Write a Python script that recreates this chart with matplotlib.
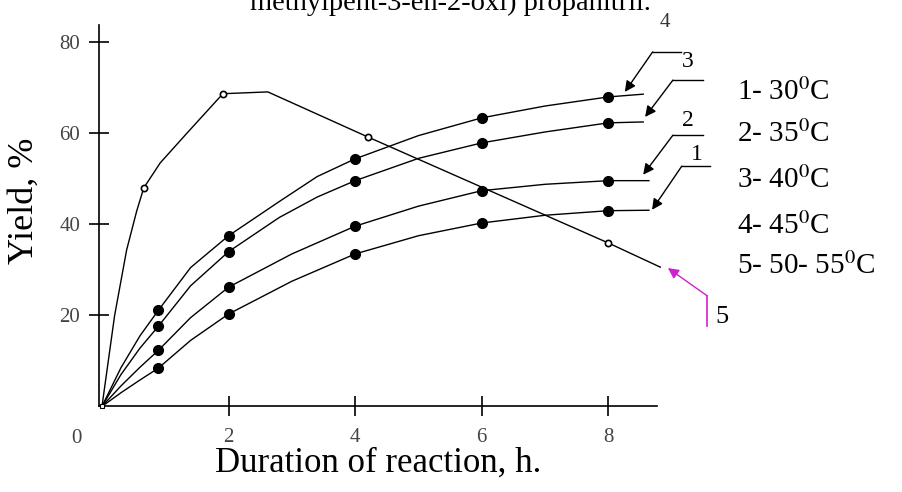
import matplotlib
matplotlib.use("Agg")
import matplotlib.pyplot as plt

plt.rcParams['font.family'] = ['Liberation Serif', 'DejaVu Serif']
plt.rcParams['mathtext.fontset'] = 'stix'

# --- marker data ---
t_marks = [0.89, 2, 4, 6, 8]
y_30 = [8.4, 20.3, 33.5, 40.3, 43.0]
y_35 = [12.3, 26.2, 39.6, 47.4, 49.6]
y_40 = [17.6, 34.0, 49.6, 57.9, 62.3]
y_45 = [21.1, 37.5, 54.4, 63.4, 68.0]

t_50 = [0.66, 1.91, 4.2, 8.0]
y_50 = [48.0, 68.7, 59.2, 35.9]

# --- traced curve lines ---
trace_t_a = [0, 0.3, 0.6, 0.89, 1.4, 2, 3, 4, 5, 6, 7, 8, 8.64]
trace_30 = [0, 3.0, 5.8, 8.4, 14.5, 20.3, 27.5, 33.5, 37.5, 40.3, 42.0, 43.0, 43.1]
trace_35 = [0, 4.5, 8.6, 12.3, 19.5, 26.2, 33.5, 39.6, 44.0, 47.4, 48.8, 49.6, 49.6]
trace_t_b = [0, 0.3, 0.6, 0.89, 1.4, 2, 2.8, 3.4, 4, 5, 6, 7, 8, 8.55]
trace_40 = [0, 7.0, 12.8, 17.6, 26.5, 34.0, 41.5, 46.0, 49.6, 54.5, 57.9, 60.3, 62.3, 62.5]
trace_45 = [0, 8.5, 15.5, 21.1, 30.5, 37.5, 45.0, 50.5, 54.4, 59.5, 63.4, 66.0, 68.0, 68.6]
trace_t_50 = [0, 0.2, 0.39, 0.55, 0.66, 0.92, 1.34, 1.91, 2.62, 4.2, 8.0, 8.82]
trace_50 = [0, 20.0, 34.4, 43.0, 48.0, 53.5, 60.0, 68.7, 69.1, 59.2, 35.9, 30.6]

legend_labels = ["1- 30$^0$C", "2- 35$^0$C", "3- 40$^0$C", "4- 45$^0$C", "5- 50- 55$^0$C"]

W, H = 902, 492
fig = plt.figure(figsize=(W / 100, H / 100), dpi=100)
ax = fig.add_axes([99 / W, 1 - 406.4 / H, (657 - 99) / W, (406.4 - 25) / H])
ax.set_xlim(-0.047, 8.768)
ax.set_ylim(0, 83.8)

for tt, yy in [(trace_t_a, trace_30), (trace_t_a, trace_35),
               (trace_t_b, trace_40), (trace_t_b, trace_45)]:
    ax.plot(tt, yy, color='black', lw=1.0, clip_on=False)
ax.plot(trace_t_50, trace_50, color='black', lw=1.0, clip_on=False)

for yy in [y_30, y_35, y_40, y_45]:
    ax.plot(t_marks, yy, 'o', color='black', ms=7, clip_on=False, zorder=3)
ax.plot(t_50, y_50, 'o', mfc='white', mec='black', ms=4.5, mew=1.2, zorder=3)
ax.plot([0], [0], 's', mfc='white', mec='black', ms=3, mew=0.8, clip_on=False, zorder=3)

for s in ['top', 'right']:
    ax.spines[s].set_visible(False)
for s in ['left', 'bottom']:
    ax.spines[s].set_linewidth(1.2)
ax.set_xticks([2, 4, 6, 8])
ax.set_yticks([20, 40, 60, 80])
ax.tick_params(direction='inout', length=15, width=1.2, labelsize=15,
               labelcolor='#444444', pad=6)
ax.tick_params(axis='x', pad=8)
ax.text(-0.40, -5.0, "0", fontsize=15, color='#444444', ha='center', va='top')

ax.set_xlabel("Duration of reaction, h.", fontsize=25, labelpad=0)
ax.set_ylabel("Yield, %", fontsize=26)
ax.yaxis.set_label_coords(-0.104, 0.54)

# leader lines with arrows to curve ends
arrow = dict(arrowstyle='-|>', color='black', lw=1.0, mutation_scale=16,
             shrinkA=0, shrinkB=0)
leaders = [
    ("4", (8.70, 77.9), (9.15, 77.9), (8.26, 69.1), (8.89, 84.3)),
    ("3", (9.02, 71.7), (9.49, 71.7), (8.58, 63.6), (9.26, 75.7)),
    ("2", (9.02, 59.6), (9.49, 59.6), (8.55, 50.9), (9.26, 62.9)),
    ("1", (9.16, 52.8), (9.60, 52.8), (8.69, 43.2), (9.40, 55.3)),
]
for lab, p0, p1, tip, lp in leaders:
    ax.plot([p0[0], p1[0]], [p0[1], p1[1]], color='black', lw=1.0, clip_on=False)
    ax.annotate("", xy=tip, xytext=p0, arrowprops=arrow, annotation_clip=False)
    ax.text(lp[0], lp[1], lab, fontsize=15 if lab == "4" else 17,
            color='#333333' if lab == "4" else 'black', ha='center', va='center')

mag = '#d020d0'
ax.plot([9.56, 9.56], [24.3, 17.7], color=mag, lw=1.2, clip_on=False)
ax.annotate("", xy=(8.94, 30.4), xytext=(9.56, 24.3), annotation_clip=False,
            arrowprops=dict(arrowstyle='-|>', color=mag, lw=1.0, mutation_scale=16,
                            shrinkA=0, shrinkB=0))
ax.text(9.80, 19.6, "5", fontsize=19, ha='center', va='center')

for i, lab in enumerate(legend_labels):
    yc = [92, 134, 180, 226, 266][i]
    fig.text(737 / W, 1 - yc / H, lab, fontsize=21, ha='left', va='center')

# cut-off caption from the page above
fig.text(250 / W, 1 - 10 / H, "methylpent-3-en-2-oxi) propanitril.", fontsize=20.5,
         ha='left', va='baseline')

fig.savefig("out.png", dpi=100)
